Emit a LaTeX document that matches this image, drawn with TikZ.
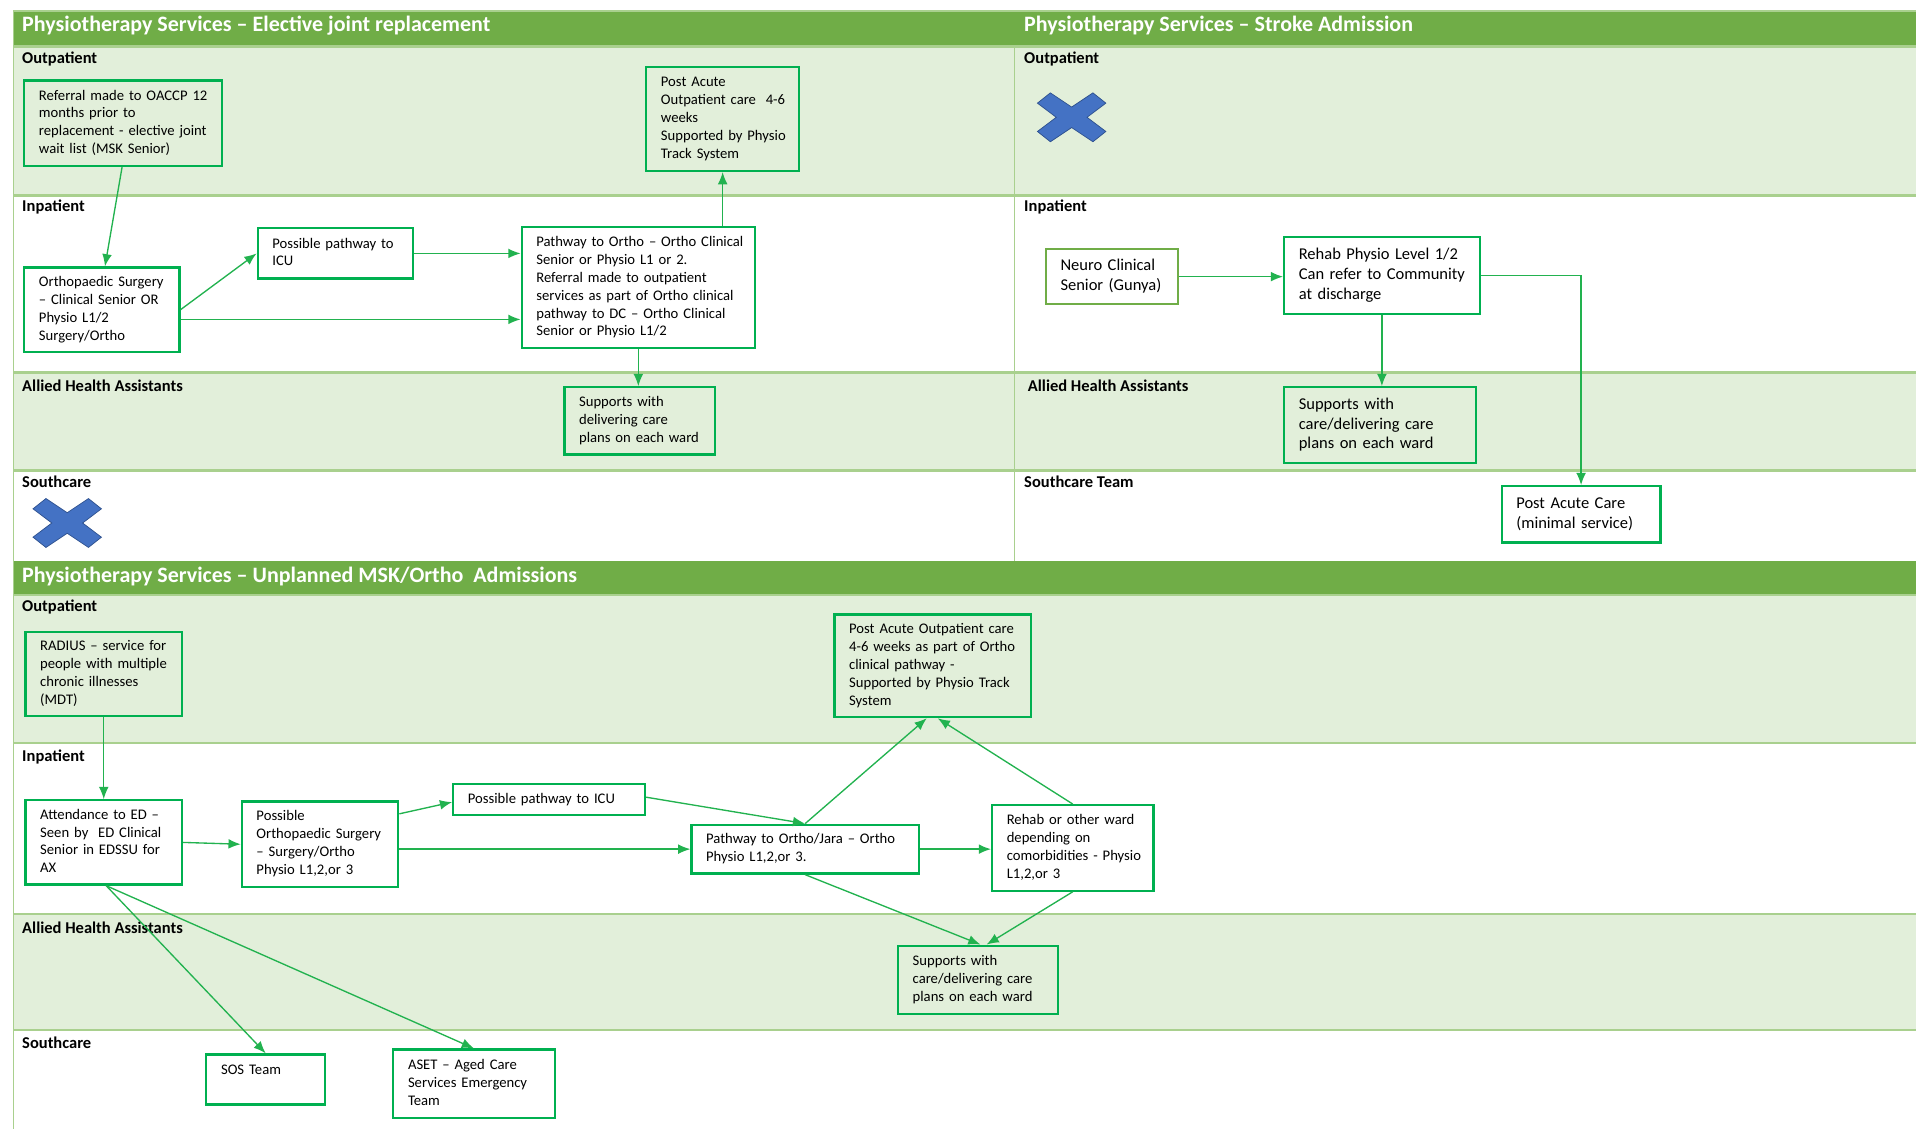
\documentclass[tikz,border=0pt]{standalone}
\usepackage{fontspec}
\setmainfont{Carlito}
\usetikzlibrary{arrows.meta}
\definecolor{hdr}{HTML}{70AD47}
\definecolor{lanefill}{HTML}{E2EFDA}
\definecolor{laneline}{HTML}{A9D08E}
\definecolor{boxgreen}{HTML}{00B050}
\definecolor{linkgreen}{HTML}{22B24F}
\definecolor{olivebox}{HTML}{70AD47}
\definecolor{xblue}{HTML}{4472C4}
\definecolor{xedge}{HTML}{2F528F}
\newcommand\boxlines[1]{\begin{tabular}{@{}l@{}}#1\end{tabular}}
\begin{document}
\begin{tikzpicture}[x=1pt,y=-1pt,
  box/.style={draw=boxgreen,line width=1.8pt,inner sep=0pt,align=left,anchor=north west,
    font=\fontsize{12}{14.65}\selectfont},
  bigbox/.style={box,font=\fontsize{13.5}{16.2}\selectfont},
  sz/.style n args={3}{minimum width=#1,minimum height=#2,text width=#3},
  title/.style={anchor=west,inner sep=0pt,text=white,font=\fontsize{18}{22}\selectfont\bfseries},
  lane/.style={anchor=west,inner sep=0pt,font=\fontsize{13.5}{16}\selectfont\bfseries},
  link/.style={draw=linkgreen,line width=1.1pt,-{Latex[length=10pt,width=8pt]}},
  xmark/.pic={\filldraw[fill=xblue,draw=xedge,line width=0.6pt]
    (0,-8.4) -- (17.4,-20) -- (28,-11.6) -- (12.6,0) -- (28,11.6) -- (17.4,20) --
    (0,8.4) -- (-17.4,20) -- (-28,11.6) -- (-12.6,0) -- (-28,-11.6) -- (-17.4,-20) -- cycle;}
]
\useasboundingbox (0,0) rectangle (1568,924);

% swimlane bands
\fill[hdr] (11,9) rectangle (1568,38);
\fill[lanefill] (11,38) rectangle (1568,160);
\fill[lanefill] (11,305) rectangle (1568,385);
\fill[hdr] (11,459) rectangle (1568,487);
\fill[lanefill] (11,487) rectangle (1568,608);
\fill[lanefill] (11,748) rectangle (1568,843);
\foreach \y in {38,160,305,385,487,608,748,843}
  \draw[laneline,line width=2pt] (11,\y) -- (1568,\y);
\draw[laneline,line width=1pt] (11,9) -- (1568,9);
\draw[laneline,line width=1pt] (11,9) -- (11,924);
\draw[laneline,line width=1pt] (830,38) -- (830,459);

% titles
\node[title] (t1) at (18,21) {Physiotherapy Services – Elective joint replacement};
\node[title] (t2) at (838,21) {Physiotherapy Services – Stroke Admission};
\node[title] (t3) at (18,472) {Physiotherapy Services – Unplanned MSK/Ortho~ Admissions};

% lane labels
\node[lane] (l1) at (18,48) {Outpatient};
\node[lane] (l2) at (18,169.5) {Inpatient};
\node[lane] (l3) at (18,315.5) {Allied Health Assistants};
\node[lane] (l4) at (18,394.5) {Southcare};
\node[lane] (r1) at (838,48) {Outpatient};
\node[lane] (r2) at (838,169.5) {Inpatient};
\node[lane] (r3) at (841,315.5) {Allied Health Assistants};
\node[lane] (r4) at (838,394.5) {Southcare Team};
\node[lane] (m1) at (18,496.5) {Outpatient};
\node[lane] (m2) at (18,619.5) {Inpatient};
\node[lane] (m3) at (18,759.5) {Allied Health Assistants};
\node[lane] (m4) at (18,853.5) {Southcare};

% no service markers
\pic at (55,428) {xmark};
\pic at (877,96) {xmark};

% elective joint replacement
\node[box,sz={162}{70}{138}] (a1) at (19,65) {\boxlines{Referral made to OACCP 12\\months prior to\\replacement - elective joint\\wait list (MSK Senior)}};
\node[box,sz={125}{85}{101}] (a2) at (528,54) {\boxlines{Post Acute\\Outpatient care~ 4-6\\weeks\\Supported by Physio\\Track System}};
\node[box,sz={127}{69}{103}] (a3) at (19,218) {\boxlines{Orthopaedic Surgery\\– Clinical Senior OR\\Physio L1/2\\Surgery/Ortho}};
\node[box,sz={127}{41}{103}] (a4) at (210,186) {\boxlines{Possible pathway to\\ICU}};
\node[box,sz={191}{99}{167}] (a5) at (426,185) {\boxlines{Pathway to Ortho – Ortho Clinical\\Senior or Physio L1 or 2.\\Referral made to outpatient\\services as part of Ortho clinical\\pathway to DC – Ortho Clinical\\Senior or Physio L1/2}};
\node[box,sz={123}{55}{99}] (a6) at (461,316) {\boxlines{Supports with\\delivering care\\plans on each ward}};

% stroke admission
\node[bigbox,draw=olivebox,sz={108}{45}{84}] (b1) at (855,203) {\boxlines{Neuro Clinical\\Senior (Gunya)}};
\node[bigbox,sz={160}{63}{136}] (b2) at (1050,193) {\boxlines{Rehab Physio Level 1/2\\Can refer to Community\\at discharge}};
\node[bigbox,sz={157}{62}{133}] (b3) at (1050,316) {\boxlines{Supports with\\care/delivering care\\plans on each ward}};
\node[bigbox,sz={130}{46}{106}] (b4) at (1228,397) {\boxlines{Post Acute Care\\(minimal service)}};

% unplanned MSK/Ortho admissions
\node[box,sz={128}{69}{104}] (c1) at (20,516) {\boxlines{RADIUS – service for\\people with multiple\\chronic illnesses\\(MDT)}};
\node[box,sz={161}{84}{137}] (c2) at (682,502) {\boxlines{Post Acute Outpatient care\\4-6 weeks as part of Ortho\\clinical pathway -\\Supported by Physio Track\\System}};
\node[box,sz={128}{69}{104}] (c3) at (20,654) {\boxlines{Attendance to ED –\\Seen by~ ED Clinical\\Senior in EDSSU for\\AX}};
\node[box,sz={128}{70}{104}] (c4) at (197,655) {\boxlines{Possible\\Orthopaedic Surgery\\– Surgery/Ortho\\Physio L1,2,or 3}};
\node[box,sz={157}{25}{133}] (c5) at (370,641) {\boxlines{Possible pathway to ICU}};
\node[box,sz={186}{40}{162}] (c6) at (565,674) {\boxlines{Pathway to Ortho/Jara – Ortho\\Physio L1,2,or 3.}};
\node[box,sz={132}{70}{108}] (c7) at (811,658) {\boxlines{Rehab or other ward\\depending on\\comorbidities - Physio\\L1,2,or 3}};
\node[box,sz={131}{56}{107}] (c8) at (734,773) {\boxlines{Supports with\\care/delivering care\\plans on each ward}};
\node[box,sz={97}{41}{73}] (c9) at (168,862) {\boxlines{SOS Team\\\mbox{}}};
\node[box,sz={132}{56}{108}] (c10) at (321,858) {\boxlines{ASET – Aged Care\\Services Emergency\\Team}};

% connectors: elective joint replacement
\draw[link] ([xshift=-1pt]a1.south) -- ([xshift=2.5pt]a3.north);
\draw[link] (a3.east) -- (a4.west);
\draw[link] (a4.east) -- (a4.east -| a5.west);
\draw[link] ([yshift=-8pt]a3.east) -- ([yshift=-8pt]a3.east -| a5.west);
\draw[link] (a2.south |- a5.north) -- (a2.south);
\draw[link] (a5.south) -- (a5.south |- a6.north);

% connectors: stroke admission
\draw[link] (b1.east) -- (b1.east -| b2.west);
\draw[link] (b2.south) -- (b2.south |- b3.north);
\draw[link] (b2.east) -| (b4.north);

% connectors: unplanned admissions
\draw[link] (c1.south) -- (c3.north);
\draw[link] (c3.east) -- (c4.west);
\draw[link] ([yshift=-11pt]c4.north east) -- ([yshift=-2pt]c5.west);
\draw[link] ([yshift=2pt]c5.east) -- (c6.north);
\draw[link] (c6.west -| c4.east) -- (c6.west);
\draw[link] (c6.north) -- ([xshift=-5pt]c2.south);
\draw[link] (c7.north) -- ([xshift=4pt]c2.south);
\draw[link] (c6.east) -- (c6.east -| c7.west);
\draw[link] (c6.south) -- ([xshift=2pt]c8.north);
\draw[link] (c7.south) -- ([xshift=7pt]c8.north);
\draw[link] ([xshift=2pt]c3.south) -- (c9.north);
\draw[link] ([xshift=2pt]c3.south) -- (c10.north);
\end{tikzpicture}
\end{document}
